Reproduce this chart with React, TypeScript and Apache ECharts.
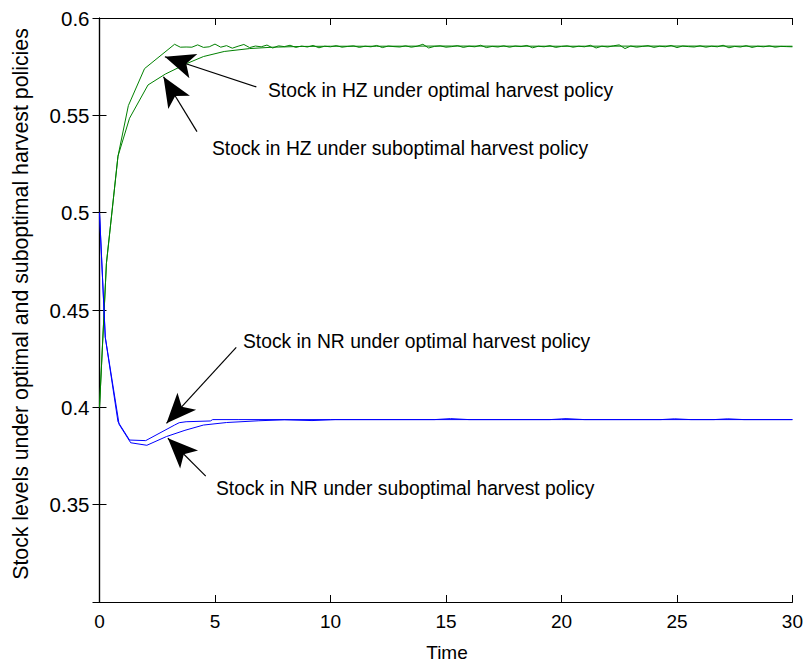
import React, { useEffect, useRef } from "react";
import * as echarts from "echarts";

// Stock in HZ, optimal policy (early transient)
const hzOptT = [0, 0.3, 0.8, 1.25, 1.95, 3.25];
const hzOptV = [0.4, 0.474, 0.529, 0.555, 0.574, 0.5865];
// Stock in HZ, optimal policy: jagged steady part, t = 3.5 ... 30 every 0.25
const hzOptTailStart = 3.5;
const hzOptTailStep = 0.25;
const hzOptTail = [
  0.5850, 0.5851, 0.5850, 0.5862, 0.5849, 0.5852, 0.5866, 0.5850, 0.5858, 0.5845,
  0.5855, 0.5864, 0.5848, 0.5856, 0.5852, 0.5861, 0.5846, 0.5857, 0.5853, 0.5860,
  0.5849, 0.5856, 0.5851, 0.5859, 0.5847, 0.5855, 0.5852, 0.5858, 0.5850, 0.5854,
  0.5857, 0.5849, 0.5855, 0.5852, 0.5859, 0.5848, 0.5856, 0.5853, 0.5851, 0.5857,
  0.5850, 0.5855, 0.5865, 0.5846, 0.5854, 0.5857, 0.5850, 0.5853, 0.5858, 0.5849,
  0.5855, 0.5852, 0.5860, 0.5848, 0.5854, 0.5851, 0.5857, 0.5850, 0.5856, 0.5853,
  0.5859, 0.5847, 0.5855, 0.5852, 0.5858, 0.5849, 0.5854, 0.5857, 0.5850, 0.5855,
  0.5852, 0.5860, 0.5846, 0.5855, 0.5851, 0.5857, 0.5862, 0.5843, 0.5856, 0.5850,
  0.5854, 0.5858, 0.5849, 0.5855, 0.5852, 0.5859, 0.5848, 0.5856, 0.5853, 0.5851,
  0.5857, 0.5850, 0.5855, 0.5852, 0.5860, 0.5847, 0.5854, 0.5851, 0.5858, 0.5849,
  0.5855, 0.5852, 0.5857, 0.5850, 0.5854, 0.5853, 0.5852,
];

// Stock in HZ, suboptimal policy
const hzSubT = [0, 0.3, 0.8, 1.3, 2.1, 2.85, 3.8, 4.5, 5.4, 6.5, 7.5, 8.8, 10, 12, 15, 20, 25, 30];
const hzSubV = [0.4, 0.474, 0.529, 0.5485, 0.5656, 0.5712, 0.5767, 0.5802, 0.5828, 0.5843, 0.585, 0.5854, 0.5855, 0.5855, 0.5856, 0.5855, 0.5856, 0.5855];

// Stock in NR, optimal policy
const nrOptT = [0, 0.25, 0.8, 1.3, 2.0, 3.25, 3.45, 3.75, 4.8, 4.9, 6, 10, 20, 30];
const nrOptV = [0.5, 0.436, 0.3926, 0.3832, 0.3829, 0.3909, 0.3921, 0.3926, 0.393, 0.3937, 0.3937, 0.3937, 0.3937, 0.3937];

// Stock in NR, suboptimal policy
const nrSubT = [0, 0.25, 0.85, 1.35, 2.05, 2.9, 3.7, 4.5, 5.5, 6.9, 8, 9.2, 10.2, 14.5, 15.2, 16, 19.5, 20.2, 21, 24.3, 24.9, 25.6, 26.6, 27.2, 27.9, 30];
const nrSubV = [0.5, 0.436, 0.3912, 0.3818, 0.3805, 0.385, 0.3882, 0.3909, 0.3922, 0.3931, 0.3936, 0.3932, 0.3937, 0.3937, 0.3942, 0.3937, 0.3937, 0.3942, 0.3937, 0.3937, 0.3941, 0.3937, 0.3937, 0.3941, 0.3937, 0.3937];

// Annotation arrows in data coordinates: [tailT, tailV, tipT, tipV]
const arrowHzOpt = [6.79, 0.5646, 2.83, 0.5801];
const arrowHzSub = [4.22, 0.5416, 2.77, 0.5698];
const arrowNrOpt = [5.92, 0.4308, 2.9, 0.3918];
const arrowNrSub = [4.6, 0.3647, 2.96, 0.3841];

const labelHzOpt = "Stock in HZ under optimal harvest policy";
const labelHzSub = "Stock in HZ under suboptimal harvest policy";
const labelNrOpt = "Stock in NR under optimal harvest policy";
const labelNrSub = "Stock in NR under suboptimal harvest policy";
const xTitle = "Time";
const yTitle = "Stock levels under optimal and suboptimal harvest policies";

const FONT = '"Liberation Sans", Arial, Helvetica, sans-serif';
const ANN = 19.3;

function zip(t: number[], v: number[]) {
  return t.map((x, i) => [x, v[i]]);
}

export default function App() {
  const ref = useRef<HTMLDivElement>(null);
  useEffect(() => {
    const chart = echarts.init(ref.current!, null, { renderer: "svg" });
    const hzOpt = zip(hzOptT, hzOptV).concat(
      hzOptTail.map((v, i) => [hzOptTailStart + i * hzOptTailStep, v])
    );
    const arrow = (a: number[]) => [
      { coord: [a[0], a[1]], symbol: "none" },
      { coord: [a[2], a[3]], symbol: "arrow", symbolSize: [19, 30], symbolOffset: [0, 0] },
    ];
    const tickStyle = { show: true, inside: true, length: 7, lineStyle: { color: "#000", width: 1 } };
    const lineStyle = { color: "#000", width: 1.2 };
    const txt = (text: string, x: number, y: number) => ({
      type: "text", x, y,
      style: { text, fontSize: ANN, fontFamily: FONT, fill: "#000", align: "left", verticalAlign: "middle" },
    });
    chart.setOption({
      animation: false,
      backgroundColor: "#fff",
      grid: { left: 99.5, right: 10.5, top: 18, bottom: 61, containLabel: false },
      xAxis: [
        {
          type: "value", min: 0, max: 30, interval: 5, position: "bottom",
          axisLine: { show: true, lineStyle }, axisTick: tickStyle, splitLine: { show: false },
          axisLabel: { color: "#000", fontSize: 19, fontFamily: FONT, margin: 10 },
        },
        {
          type: "value", min: 0, max: 30, interval: 5, position: "top",
          axisLine: { show: true, lineStyle }, axisTick: tickStyle, splitLine: { show: false },
          axisLabel: { show: false },
        },
      ],
      yAxis: [
        {
          type: "value", min: 0.3, max: 0.6, interval: 0.05, position: "left",
          axisLine: { show: true, lineStyle }, axisTick: tickStyle, splitLine: { show: false },
          axisLabel: {
            color: "#000", fontSize: 20.5, fontFamily: FONT, margin: 10,
            formatter: (v: number) => (v < 0.31 ? "" : String(+v.toFixed(2))),
          },
        },
        {
          type: "value", min: 0.3, max: 0.6, interval: 0.05, position: "right",
          axisLine: { show: true, lineStyle }, axisTick: tickStyle, splitLine: { show: false },
          axisLabel: { show: false },
        },
      ],
      series: [
        {
          type: "line", name: "HZ optimal", data: hzOpt, showSymbol: false, symbol: "none",
          lineStyle: { color: "#008000", width: 1 }, itemStyle: { color: "#008000" },
          markLine: {
            silent: true, animation: false, label: { show: false },
            lineStyle: { color: "#000", width: 1.2, type: "solid" },
            data: [arrow(arrowHzOpt), arrow(arrowHzSub), arrow(arrowNrOpt), arrow(arrowNrSub)],
          },
        },
        {
          type: "line", name: "HZ suboptimal", data: zip(hzSubT, hzSubV), showSymbol: false, symbol: "none",
          lineStyle: { color: "#008000", width: 1 },
        },
        {
          type: "line", name: "NR optimal", data: zip(nrOptT, nrOptV), showSymbol: false, symbol: "none",
          lineStyle: { color: "#0000ff", width: 1 },
        },
        {
          type: "line", name: "NR suboptimal", data: zip(nrSubT, nrSubV), showSymbol: false, symbol: "none",
          lineStyle: { color: "#0000ff", width: 1 },
        },
      ],
      graphic: [
        txt(labelHzOpt, 268, 90),
        txt(labelHzSub, 212, 148),
        txt(labelNrOpt, 243, 341),
        txt(labelNrSub, 216, 488),
        { type: "text", x: 447, y: 652, style: { text: xTitle, fontSize: 19, fontFamily: FONT, fill: "#000", align: "center", verticalAlign: "middle" } },
        { type: "text", x: 21, y: 304, rotation: Math.PI / 2, style: { text: yTitle, fontSize: 21.3, fontFamily: FONT, fill: "#000", align: "center", verticalAlign: "middle" } },
      ],
    });
    return () => chart.dispose();
  }, []);
  return (
    <div
      ref={ref}
      style={{ position: "absolute", left: 0, top: 0, width: 806, height: 663, background: "#fff" }}
    />
  );
}
